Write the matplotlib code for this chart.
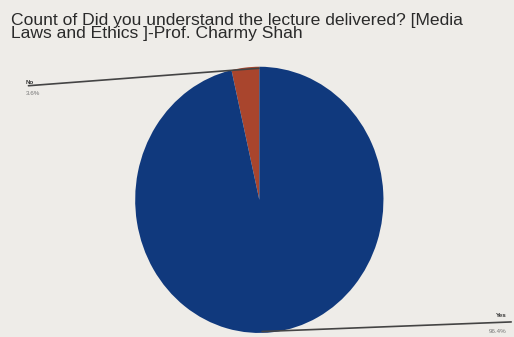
import numpy as np
import matplotlib.pyplot as plt

# Data
labels = ["No", "Yes"]
shares = [3.6, 96.4]
colors = ["#a9452d", "#10397d"]

TITLE = ("Count of Did you understand the lecture delivered? [Media\n"
         "Laws and Ethics ]-Prof. Charmy Shah")

BG = "#eeece8"

fig = plt.figure(figsize=(5.14, 3.37), dpi=100, facecolor=BG)
plt.rcParams["font.family"] = ["Liberation Sans", "DejaVu Sans"]

ax = fig.add_axes([0.263, 0.012, 0.483, 0.79])
ax.set_facecolor(BG)
wedges, _ = ax.pie(shares, colors=colors, startangle=90, counterclock=True,
                   wedgeprops=dict(linewidth=0))
ax.set_aspect("auto")
ax.set_xlim(-1.0, 1.0)
ax.set_ylim(-1.0, 1.0)
ax.axis("off")

fig.text(0.022, 0.962, TITLE, fontsize=12.6, color="#2a2a2a", va="top",
         linespacing=0.86)

# leader lines + labels
ax.annotate("", xy=(0.02, 0.99), xycoords="data",
            xytext=(0.05, 0.745), textcoords="figure fraction",
            arrowprops=dict(arrowstyle="-", color="#444444", lw=1.2))
fig.text(0.05, 0.752, labels[0], fontsize=4.5, color="#333333", fontweight="bold")
fig.text(0.05, 0.718, f"{shares[0]}%", fontsize=4.5, color="#777777")

ax.annotate("", xy=(0.0, -0.99), xycoords="data",
            xytext=(1.0, 0.045), textcoords="figure fraction",
            arrowprops=dict(arrowstyle="-", color="#444444", lw=1.2))
fig.text(0.985, 0.06, labels[1], fontsize=4.5, color="#333333",
         fontweight="bold", ha="right")
fig.text(0.985, 0.013, f"{shares[1]}%", fontsize=4.5, color="#777777", ha="right")

fig.savefig("out.png", dpi=100, facecolor=BG)
